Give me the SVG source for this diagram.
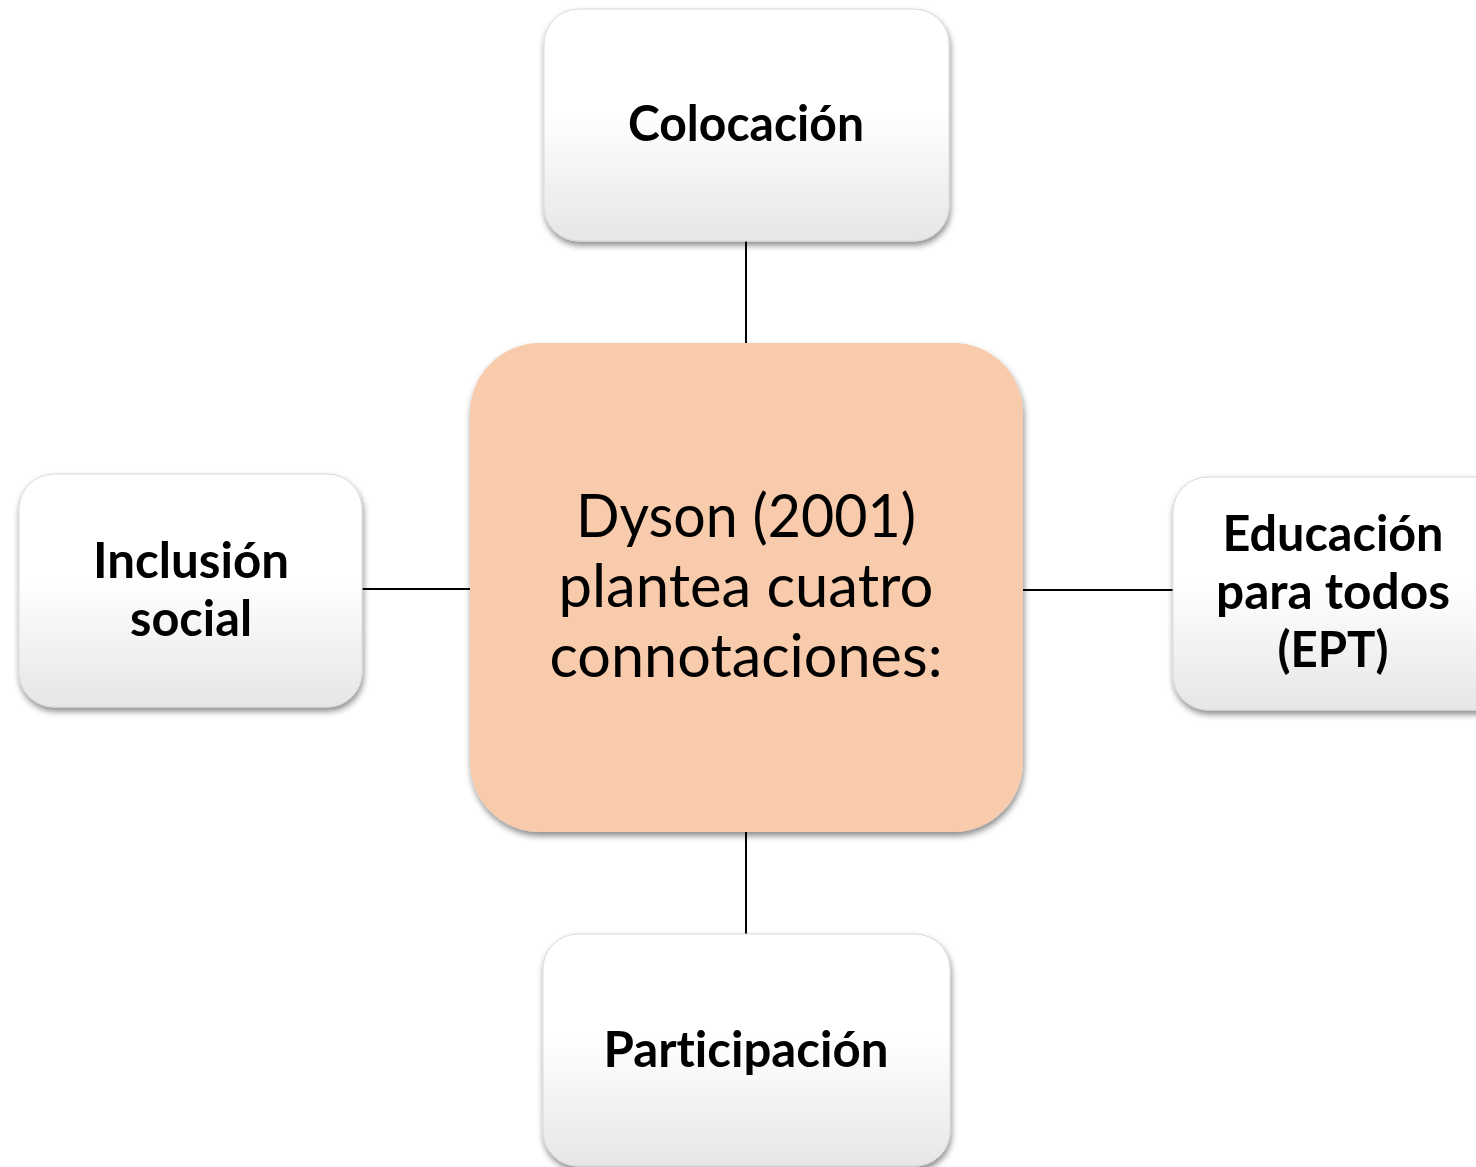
<svg xmlns="http://www.w3.org/2000/svg" width="1476" height="1167" viewBox="0 0 1476 1167">
<defs>
<linearGradient id="g" x1="0" y1="0" x2="0" y2="1">
<stop offset="0" stop-color="#ffffff"/>
<stop offset="0.45" stop-color="#ffffff"/>
<stop offset="1" stop-color="#e6e6e6"/>
</linearGradient>
<filter id="sh" x="-10%" y="-10%" width="120%" height="125%">
<feDropShadow dx="1" dy="4" stdDeviation="3" flood-color="#000" flood-opacity="0.45"/>
</filter>
</defs>
<style>
.box{fill:url(#g);stroke:#d9d9d9;stroke-width:1;filter:url(#sh)}
.ctr{fill:#f7cbac;filter:url(#sh)}
.lbl{font-family:Lato,"Open Sans","Liberation Sans",sans-serif;font-weight:bold;font-size:50px;fill:#000;text-anchor:middle;font-variant-ligatures:none;font-feature-settings:"liga" 0}
.ct{font-family:Lato,"Open Sans","Liberation Sans",sans-serif;font-size:60px;fill:#000;text-anchor:middle;font-variant-ligatures:none;font-feature-settings:"liga" 0}
.con{stroke:#000;stroke-width:2;fill:none}
</style>
<rect width="1476" height="1167" fill="#fff"/>
<g id="connectors">
<line class="con" x1="746" y1="240" x2="746" y2="344"/>
<line class="con" x1="746" y1="831" x2="746" y2="935"/>
<line class="con" x1="361" y1="589" x2="471" y2="589"/>
<line class="con" x1="1022" y1="590" x2="1174" y2="590"/>
</g>
<g id="center">
<rect class="ctr" x="470" y="343" width="553" height="489" rx="70" ry="70"/>
<text class="ct" x="746" y="537" textLength="340" lengthAdjust="spacingAndGlyphs">Dyson (2001)</text>
<text class="ct" x="746" y="607" textLength="375" lengthAdjust="spacingAndGlyphs">plantea cuatro</text>
<text class="ct" x="746" y="677" textLength="393" lengthAdjust="spacingAndGlyphs">connotaciones:</text>
</g>
<g id="colocacion">
<rect class="box" x="544" y="9" width="405" height="232" rx="35" ry="35"/>
<text class="lbl" x="746" y="141" textLength="236" lengthAdjust="spacingAndGlyphs">Colocación</text>
</g>
<g id="inclusion">
<rect class="box" x="19" y="474" width="343" height="233" rx="35" ry="35"/>
<text class="lbl" x="191" y="578" textLength="196" lengthAdjust="spacingAndGlyphs">Inclusión</text>
<text class="lbl" x="191" y="636" textLength="122" lengthAdjust="spacingAndGlyphs">social</text>
</g>
<g id="ept">
<rect class="box" x="1173" y="477" width="340" height="233" rx="35" ry="35"/>
<text class="lbl" x="1333" y="551" textLength="221" lengthAdjust="spacingAndGlyphs">Educación</text>
<text class="lbl" x="1333" y="609" textLength="234" lengthAdjust="spacingAndGlyphs">para todos</text>
<text class="lbl" x="1333" y="667" textLength="111" lengthAdjust="spacingAndGlyphs">(EPT)</text>
</g>
<g id="participacion">
<rect class="box" x="543" y="934" width="407" height="232" rx="35" ry="35"/>
<text class="lbl" x="746" y="1067" textLength="285" lengthAdjust="spacingAndGlyphs">Participación</text>
</g>
</svg>
